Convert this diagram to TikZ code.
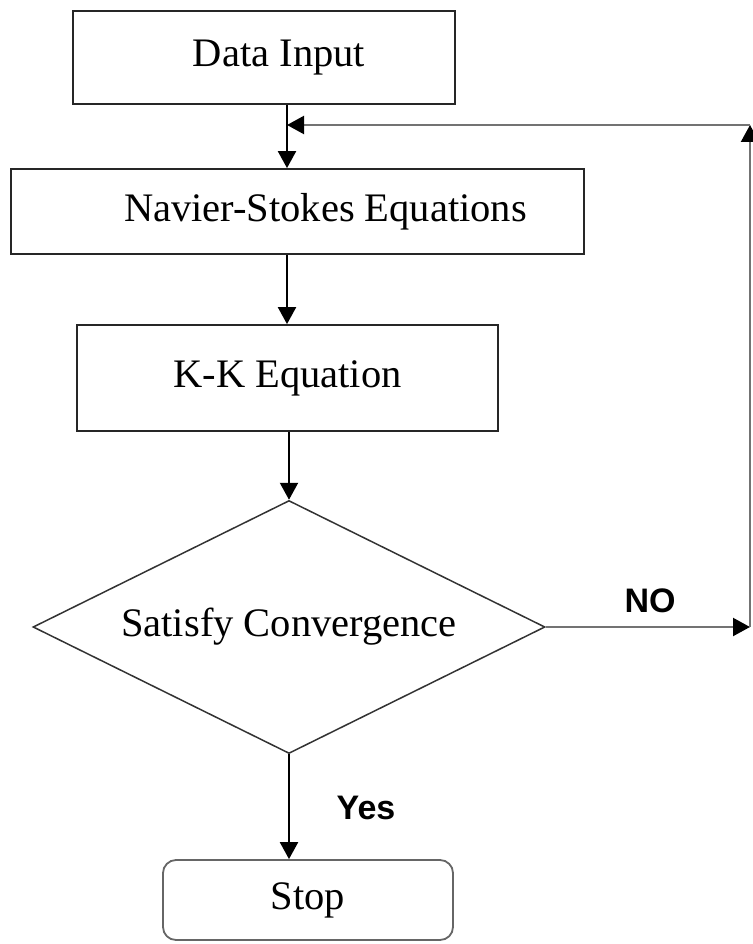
\documentclass[tikz,border=0pt]{standalone}
\usepackage{fontspec}
\setmainfont{Liberation Serif}
\newfontfamily\labelfont{Liberation Sans}
\usetikzlibrary{shapes.geometric,arrows.meta}

\tikzstyle{box} = [draw=black!85, line width=1.8pt, rectangle, inner sep=0pt,
	font=\fontsize{40.5}{48}\selectfont]
\tikzstyle{decision} = [draw=black!80, line width=1.5pt, diamond, aspect=2.02, inner sep=0pt,
	font=\fontsize{40.5}{48}\selectfont]
\tikzstyle{arrow} = [line width=2.2pt,-{Triangle[length=17pt,width=18pt,color=black]}]
\tikzstyle{loop} = [arrow,draw=black!55]
\tikzstyle{answer} = [font=\labelfont\bfseries\fontsize{34}{40}\selectfont]

\begin{document}
\begin{tikzpicture}[x=1pt,y=-1pt]
\useasboundingbox (0,0) rectangle (752,944);

\node [box, minimum width=382pt, minimum height=93pt] (input) at (264,57.5) {\hspace*{30pt}Data Input};
\node [box, minimum width=573pt, minimum height=85pt] (ns) at (297.5,211.5) {\hspace*{56pt}Navier-Stokes Equations};
\node [box, minimum width=421pt, minimum height=106pt] (kk) at (287.5,378) {K-K Equation};
\node [decision, minimum width=512pt, minimum height=253pt] (conv) at (289,627) {Satisfy Convergence};
\node [box, draw=black!60, rounded corners=13pt, minimum width=290pt, minimum height=80pt] (stop) at (308,900) {Stop};

\coordinate (c1) at (750,627);
\coordinate (c2) at (750,125);
\coordinate (c3) at (287,125);

\draw [arrow] (input.south -| c3) -- (ns.north -| c3); % input-ns
\draw [arrow] (ns.south -| c3) -- (kk.north -| c3); % ns-kk
\draw [arrow] (kk.south -| conv.north) -- (conv.north); % kk-conv
\draw [arrow] (conv.south) -- (stop.north -| conv.south); % conv-stop

\draw [loop] (conv.east) -- (c1); % no
\draw [loop] (c1) -- (c2);
\draw [loop] (c2) -- (c3);

\node [answer] (no) at (650,601) {NO};
\node [answer] (yes) at (366,808) {Yes};

\end{tikzpicture}
\end{document}
